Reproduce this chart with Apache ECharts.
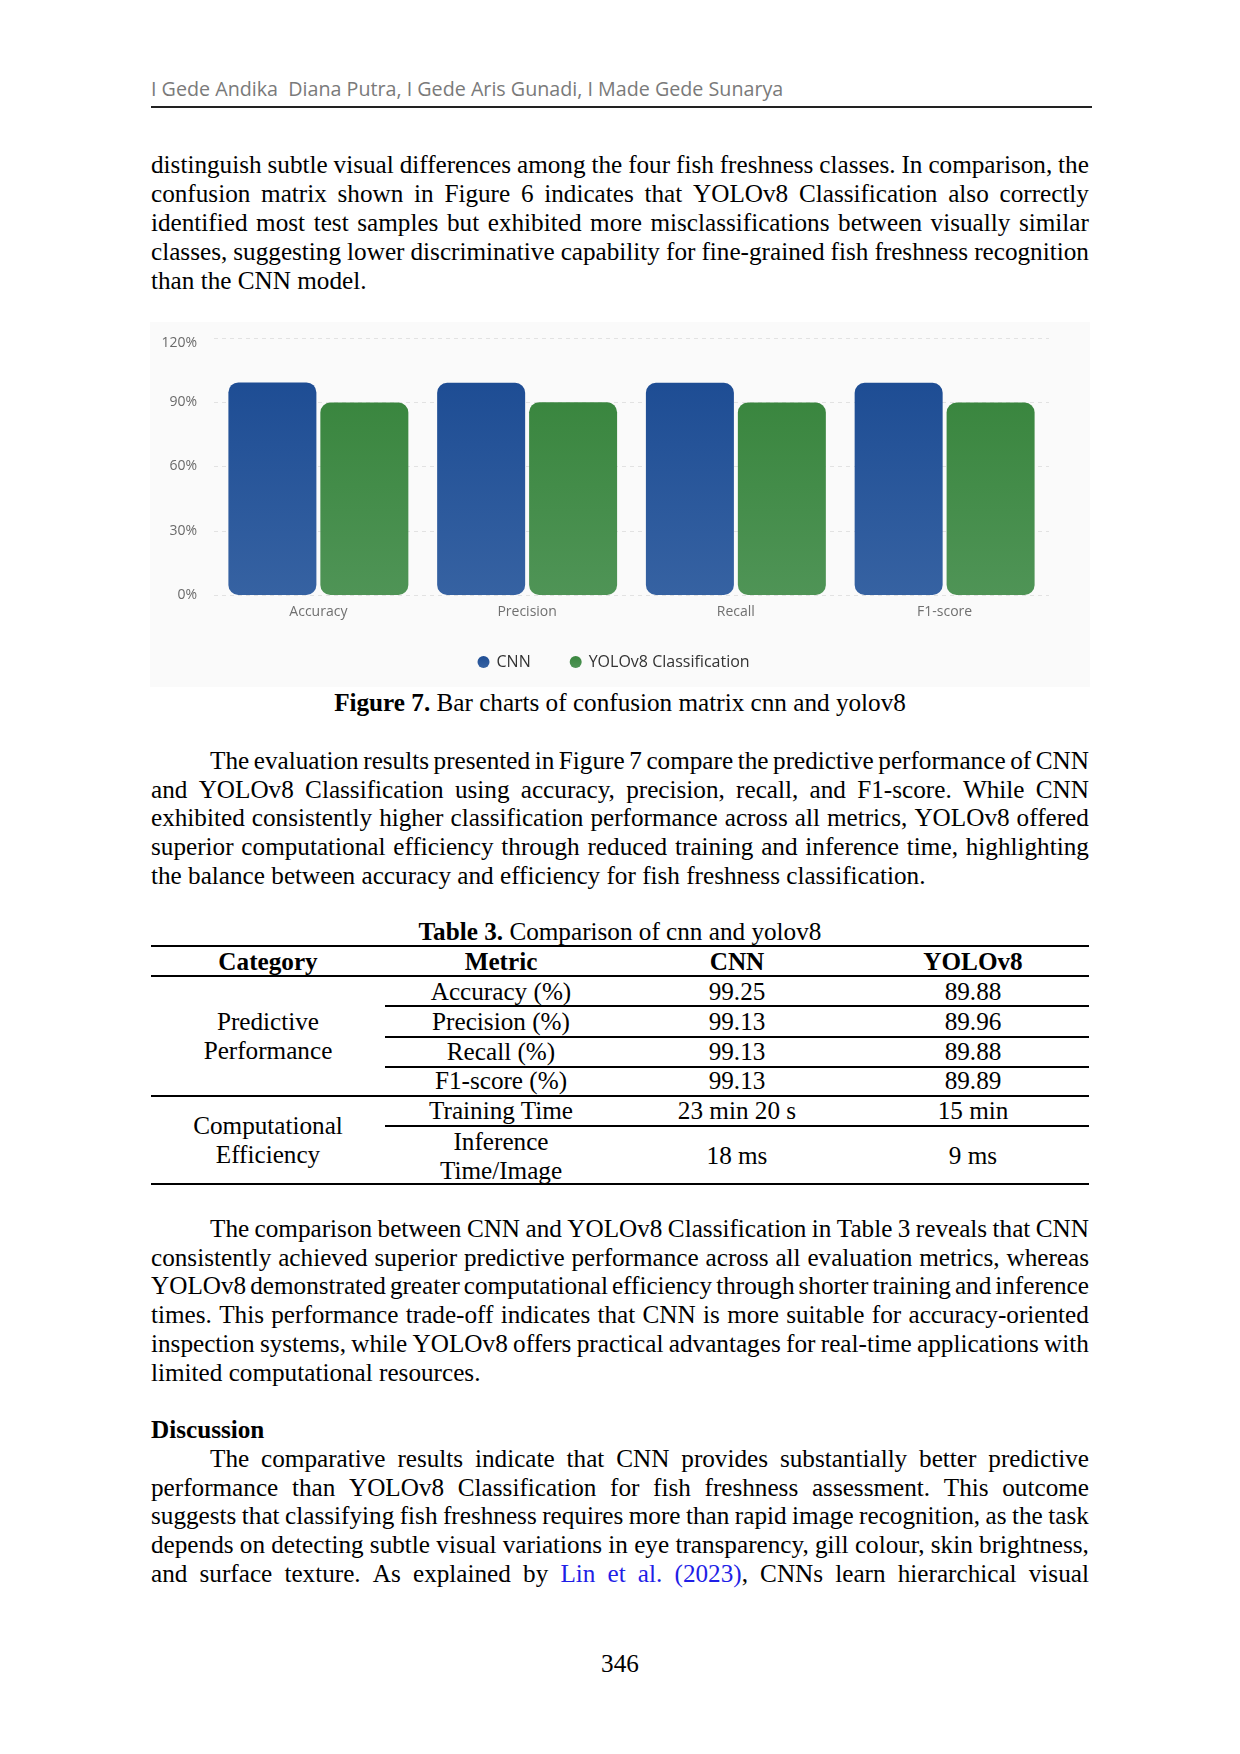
<!DOCTYPE html>
<html>
<head>
<meta charset="utf-8">
<script src="https://cdn.jsdelivr.net/npm/echarts@6/dist/echarts.min.js"></script>
<style>
html,body{margin:0;padding:0;background:#fff;}
#page{position:relative;width:1240px;height:1754px;overflow:hidden;font-family:"Liberation Serif","Times New Roman",serif;font-size:25.2px;color:#000;}
.ln{position:absolute;left:151px;width:938px;height:28.8px;line-height:28.8px;display:flex;justify-content:space-between;white-space:nowrap;}
.ln span{flex:none;}
.ln.last{justify-content:flex-start;}
.ln.last span{margin-right:0.25em;}
.t{position:absolute;white-space:nowrap;line-height:28px;height:28px;text-align:center;}
.rule{position:absolute;background:#000;}
lk{color:#1f1fe6;}
#hdr{position:absolute;left:151px;top:75px;font-family:"Open Sans","Noto Sans",sans-serif;font-size:19.7px;color:#7a7a7a;white-space:pre;line-height:28px;}
#chart{position:absolute;left:150px;top:322px;width:940px;height:365px;}
</style>
</head>
<body>
<div id="page">
  <div id="hdr">I Gede Andika  Diana Putra, I Gede Aris Gunadi, I Made Gede Sunarya</div>
  <div class="rule" style="left:151px;top:106px;width:941px;height:1.6px;background:#222;"></div>
  <div id="chart"></div>
</div>
<script>
// ---------- chart data ----------
const categories = ['Accuracy', 'Precision', 'Recall', 'F1-score'];
const seriesNames = ['CNN', 'YOLOv8 Classification'];
const cnnValues = [99.25, 99.13, 99.13, 99.13];
const yoloValues = [89.88, 89.96, 89.88, 89.89];
const yMin = 0, yMax = 120, yStep = 30;

// ---------- table data ----------
const tableHeader = ['Category', 'Metric', 'CNN', 'YOLOv8'];
const predMetrics = ['Accuracy (%)', 'Precision (%)', 'Recall (%)', 'F1-score (%)'];
const predCnn = ['99.25', '99.13', '99.13', '99.13'];
const predYolo = ['89.88', '89.96', '89.88', '89.89'];
const compMetrics = ['Training Time', 'Inference Time/Image'];
const compCnn = ['23 min 20 s', '18 ms'];
const compYolo = ['15 min', '9 ms'];

// ---------- page text ----------
const para1 = [
  'distinguish subtle visual differences among the four fish freshness classes. In comparison, the',
  'confusion matrix shown in Figure 6 indicates that YOLOv8 Classification also correctly',
  'identified most test samples but exhibited more misclassifications between visually similar',
  'classes, suggesting lower discriminative capability for fine-grained fish freshness recognition',
  'than the CNN model.'
];
const para2 = [
  'The evaluation results presented in Figure 7 compare the predictive performance of CNN',
  'and YOLOv8 Classification using accuracy, precision, recall, and F1-score. While CNN',
  'exhibited consistently higher classification performance across all metrics, YOLOv8 offered',
  'superior computational efficiency through reduced training and inference time, highlighting',
  'the balance between accuracy and efficiency for fish freshness classification.'
];
const para3 = [
  'The comparison between CNN and YOLOv8 Classification in Table 3 reveals that CNN',
  'consistently achieved superior predictive performance across all evaluation metrics, whereas',
  'YOLOv8 demonstrated greater computational efficiency through shorter training and inference',
  'times. This performance trade-off indicates that CNN is more suitable for accuracy-oriented',
  'inspection systems, while YOLOv8 offers practical advantages for real-time applications with',
  'limited computational resources.'
];
const para4 = [
  'The comparative results indicate that CNN provides substantially better predictive',
  'performance than YOLOv8 Classification for fish freshness assessment. This outcome',
  'suggests that classifying fish freshness requires more than rapid image recognition, as the task',
  'depends on detecting subtle visual variations in eye transparency, gill colour, skin brightness,',
  'and surface texture. As explained by <lk>Lin</lk> <lk>et</lk> <lk>al.</lk> <lk>(2023)</lk>, CNNs learn hierarchical visual'
];

const page = document.getElementById('page');
const PITCH = 28.8;
const CY_OFF = 14;

function addPara(lines, firstCenter, lastIsFinal) {
  lines.forEach((txt, i) => {
    const d = document.createElement('div');
    const isLast = lastIsFinal && i === lines.length - 1;
    d.className = 'ln' + (isLast ? ' last' : '');
    d.style.top = (firstCenter - CY_OFF + i * PITCH) + 'px';
    let avail = 938;
    if (i === 0 && lines.indent) { d.style.paddingLeft = '59px'; avail = 938 - 59; d.style.width = avail + 'px'; }
    const words = txt.split(' ');
    d.innerHTML = words.map(w => '<span>' + w + '</span>').join('');
    page.appendChild(d);
    if (!isLast) {
      // compress glyphs slightly if the words do not fit with a minimal gap
      let sum = 0, chars = 0;
      d.querySelectorAll('span').forEach(s => { sum += s.getBoundingClientRect().width; chars += s.textContent.length; });
      const minGap = 4;
      const need = sum + minGap * (words.length - 1);
      if (need > avail) {
        d.style.letterSpacing = (-(need - avail) / chars) + 'px';
      }
    }
  });
}
function ctext(html, cx, cy, w, extra) {
  const d = document.createElement('div');
  d.className = 't';
  d.style.left = (cx - w / 2) + 'px';
  d.style.width = w + 'px';
  d.style.top = (cy - CY_OFF) + 'px';
  if (extra) d.style.cssText += extra;
  d.innerHTML = html;
  page.appendChild(d);
}
function rule(x1, x2, y, h) {
  const d = document.createElement('div');
  d.className = 'rule';
  d.style.left = x1 + 'px';
  d.style.width = (x2 - x1) + 'px';
  d.style.top = (y - h / 2) + 'px';
  d.style.height = h + 'px';
  page.appendChild(d);
}

addPara(para1, 165.3, true);
ctext('<b>Figure 7.</b> Bar charts of confusion matrix cnn and yolov8', 620, 703, 900);
para2.indent = true;
addPara(para2, 760.7, true);

// table
ctext('<b>Table 3.</b> Comparison of cnn and yolov8', 620, 931.6, 900);
const colC = [268, 501, 737, 973];
const L = 151, R = 1089, M = 385;
rule(L, R, 946, 2);
tableHeader.forEach((h, i) => ctext('<b>' + h + '</b>', colC[i], 962, 230));
rule(L, R, 976, 2);
const rowC = [992, 1022, 1052, 1081];
const rowRule = [1006, 1037, 1067];
predMetrics.forEach((m, i) => {
  ctext(m, colC[1], rowC[i], 230);
  ctext(predCnn[i], colC[2], rowC[i], 230);
  ctext(predYolo[i], colC[3], rowC[i], 230);
});
rowRule.forEach(y => rule(M, R, y, 1.5));
ctext('Predictive', colC[0], 1022, 230);
ctext('Performance', colC[0], 1051, 230);
rule(L, R, 1096, 2);
ctext(compMetrics[0], colC[1], 1111, 230);
ctext(compCnn[0], colC[2], 1111, 230);
ctext(compYolo[0], colC[3], 1111, 230);
rule(M, R, 1126, 1.5);
ctext('Inference', colC[1], 1142, 230);
ctext('Time/Image', colC[1], 1171, 230);
ctext(compCnn[1], colC[2], 1156, 230);
ctext(compYolo[1], colC[3], 1156, 230);
ctext('Computational', colC[0], 1126, 230);
ctext('Efficiency', colC[0], 1155, 230);
rule(L, R, 1184, 2);

para3.indent = true;
addPara(para3, 1228.7, true);
ctext('<b>Discussion</b>', 151 + 150, 1429.8, 300, 'text-align:left;');
para4.indent = true;
addPara(para4, 1458.8, false);
ctext('346', 620, 1664, 100);

// ---------- chart ----------
const chart = echarts.init(document.getElementById('chart'), null, { renderer: 'canvas' });
const fontSans = '"Open Sans", "Noto Sans", sans-serif';
function grad(top, bottom) {
  return new echarts.graphic.LinearGradient(0, 0, 0, 1, [
    { offset: 0, color: top }, { offset: 1, color: bottom }
  ]);
}
chart.setOption({
  animation: false,
  backgroundColor: '#fafafa',
  textStyle: { fontFamily: fontSans },
  grid: { left: 64, right: 41, top: 16, height: 257 },
  legend: {
    data: seriesNames,
    left: 322.5, top: 327,
    icon: 'circle', itemWidth: 16, itemHeight: 12, itemGap: 39, symbolKeepAspect: true,
    textStyle: { color: '#333', fontSize: 16, fontFamily: fontSans }
  },
  xAxis: {
    type: 'category',
    data: categories,
    axisLine: { show: false },
    axisTick: { show: false },
    axisLabel: { color: '#707070', fontSize: 14, margin: 10, fontFamily: fontSans }
  },
  yAxis: {
    type: 'value',
    min: yMin, max: yMax, interval: yStep,
    axisLabel: {
      formatter: v => (v === yMax ? '{top|' + v + '%}' : v + '%'),
      rich: { top: { padding: [11, 0, 0, 0], color: '#6a6a6a', fontSize: 14, fontFamily: fontSans } },
      color: '#6a6a6a', fontSize: 14, margin: 17, fontFamily: fontSans
    },
    splitLine: { lineStyle: { type: [4, 4], color: '#e2e2e2', width: 1 } }
  },
  series: [
    {
      name: seriesNames[0], type: 'bar', data: cnnValues,
      barWidth: 88, barGap: '4.5%',
      itemStyle: { borderRadius: 10, color: grad('#1e4d94', '#3662a2') }
    },
    {
      name: seriesNames[1], type: 'bar', data: yoloValues,
      barWidth: 88, barGap: '4.5%',
      itemStyle: { borderRadius: 10, color: grad('#3a863f', '#4f9456') }
    }
  ]
});
</script>
</body>
</html>
